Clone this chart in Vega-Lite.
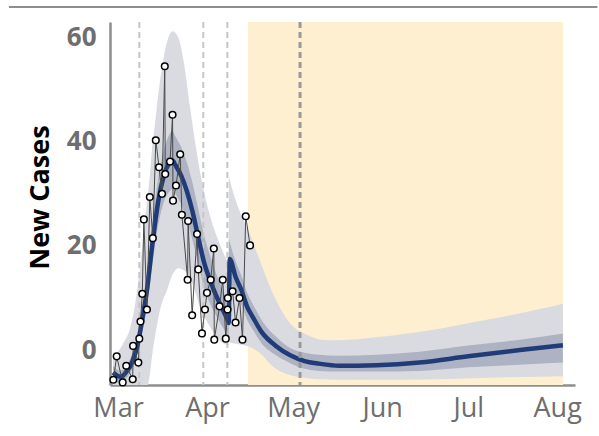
{
  "$schema": "https://vega.github.io/schema/vega-lite/v6.json",
  "width": 465,
  "height": 363,
  "autosize": "none",
  "padding": {"left": 110, "top": 22, "right": 24, "bottom": 51},
  "background": "white",
  "config": {
    "view": {"stroke": null},
    "axis": {"grid": false, "ticks": false, "domainColor": "#8e8e8e", "domainWidth": 2.5, "labelFont": "Open Sans", "labelColor": "#6e6e6e"},
    "axisX": {"labelFontSize": 27, "labelPadding": 10, "labelFontWeight": "normal"},
    "axisY": {"labelFontSize": 26, "labelFontWeight": "bold", "labelPadding": 14, "titleFont": "Open Sans", "titleFontSize": 27, "titleFontWeight": "bold", "titleColor": "#000000", "titleX": -70, "titleY": 175, "titleBaseline": "middle", "titleAlign": "center", "titleAngle": -90}
  },
  "datasets": {
    "obs": [
      {"date": "2020-02-28T09:00:00Z", "cases": -5.7},
      {"date": "2020-02-29T13:00:00Z", "cases": -1.2},
      {"date": "2020-03-02T15:00:00Z", "cases": -6.2},
      {"date": "2020-03-03T21:00:00Z", "cases": -3.0},
      {"date": "2020-03-06T03:00:00Z", "cases": -5.6},
      {"date": "2020-03-06T06:00:00Z", "cases": 0.8},
      {"date": "2020-03-08T02:00:00Z", "cases": -2.4},
      {"date": "2020-03-08T10:00:00Z", "cases": 2.2},
      {"date": "2020-03-08T20:00:00Z", "cases": 5.5},
      {"date": "2020-03-09T11:00:00Z", "cases": 10.8},
      {"date": "2020-03-10T00:00:00Z", "cases": 25.1},
      {"date": "2020-03-11T02:00:00Z", "cases": 7.8},
      {"date": "2020-03-12T02:00:00Z", "cases": 29.4},
      {"date": "2020-03-13T03:00:00Z", "cases": 21.5},
      {"date": "2020-03-14T04:00:00Z", "cases": 40.3},
      {"date": "2020-03-15T07:00:00Z", "cases": 35.1},
      {"date": "2020-03-16T08:00:00Z", "cases": 30.0},
      {"date": "2020-03-17T07:00:00Z", "cases": 54.5},
      {"date": "2020-03-17T11:00:00Z", "cases": 33.8},
      {"date": "2020-03-19T03:00:00Z", "cases": 36.2},
      {"date": "2020-03-20T00:00:00Z", "cases": 45.2},
      {"date": "2020-03-20T04:00:00Z", "cases": 28.7},
      {"date": "2020-03-21T05:00:00Z", "cases": 31.6},
      {"date": "2020-03-22T16:00:00Z", "cases": 37.6},
      {"date": "2020-03-23T06:00:00Z", "cases": 26.0},
      {"date": "2020-03-25T06:00:00Z", "cases": 13.5},
      {"date": "2020-03-25T10:00:00Z", "cases": 24.8},
      {"date": "2020-03-26T20:00:00Z", "cases": 6.7},
      {"date": "2020-03-28T13:00:00Z", "cases": 22.3},
      {"date": "2020-03-28T23:00:00Z", "cases": 15.5},
      {"date": "2020-03-30T06:00:00Z", "cases": 3.2},
      {"date": "2020-03-31T07:00:00Z", "cases": 7.8},
      {"date": "2020-04-01T00:00:00Z", "cases": 11.0},
      {"date": "2020-04-02T07:00:00Z", "cases": 13.5},
      {"date": "2020-04-03T09:00:00Z", "cases": 19.5},
      {"date": "2020-04-03T13:00:00Z", "cases": 2.0},
      {"date": "2020-04-05T09:00:00Z", "cases": 8.4},
      {"date": "2020-04-06T12:00:00Z", "cases": 13.5},
      {"date": "2020-04-07T13:00:00Z", "cases": 2.2},
      {"date": "2020-04-08T04:00:00Z", "cases": 7.8},
      {"date": "2020-04-08T06:00:00Z", "cases": 10.0},
      {"date": "2020-04-09T22:00:00Z", "cases": 11.3},
      {"date": "2020-04-10T23:00:00Z", "cases": 5.3},
      {"date": "2020-04-12T08:00:00Z", "cases": 10.0},
      {"date": "2020-04-13T09:00:00Z", "cases": 2.0},
      {"date": "2020-04-14T12:00:00Z", "cases": 25.7},
      {"date": "2020-04-16T00:00:00Z", "cases": 20.1}
    ],
    "mean": [
      {"date": "2020-02-28T07:00:00Z", "v": -4.3},
      {"date": "2020-03-01T00:00:00Z", "v": -5.0},
      {"date": "2020-03-02T00:00:00Z", "v": -5.1},
      {"date": "2020-03-04T00:00:00Z", "v": -4.1},
      {"date": "2020-03-06T00:00:00Z", "v": -2.2},
      {"date": "2020-03-08T00:00:00Z", "v": 1.5},
      {"date": "2020-03-09T00:00:00Z", "v": 4.5},
      {"date": "2020-03-11T00:00:00Z", "v": 11.2},
      {"date": "2020-03-13T00:00:00Z", "v": 20.5},
      {"date": "2020-03-15T00:00:00Z", "v": 28.5},
      {"date": "2020-03-17T00:00:00Z", "v": 33.5},
      {"date": "2020-03-19T00:00:00Z", "v": 36.0},
      {"date": "2020-03-20T00:00:00Z", "v": 36.4},
      {"date": "2020-03-21T00:00:00Z", "v": 35.5},
      {"date": "2020-03-23T00:00:00Z", "v": 33.5},
      {"date": "2020-03-25T00:00:00Z", "v": 30.5},
      {"date": "2020-03-27T00:00:00Z", "v": 26.5},
      {"date": "2020-03-29T00:00:00Z", "v": 21.5},
      {"date": "2020-03-31T00:00:00Z", "v": 16.8},
      {"date": "2020-04-02T00:00:00Z", "v": 13.5},
      {"date": "2020-04-04T00:00:00Z", "v": 10.7},
      {"date": "2020-04-06T00:00:00Z", "v": 8.3},
      {"date": "2020-04-08T00:00:00Z", "v": 6.0},
      {"date": "2020-04-08T14:00:00Z", "v": 5.2},
      {"date": "2020-04-08T22:00:00Z", "v": 17.5},
      {"date": "2020-04-11T00:00:00Z", "v": 14.0},
      {"date": "2020-04-13T00:00:00Z", "v": 11.5},
      {"date": "2020-04-15T00:00:00Z", "v": 8.3},
      {"date": "2020-04-17T00:00:00Z", "v": 6.3},
      {"date": "2020-04-20T00:00:00Z", "v": 3.5},
      {"date": "2020-04-25T00:00:00Z", "v": 0.8},
      {"date": "2020-04-30T00:00:00Z", "v": -1.0},
      {"date": "2020-05-05T00:00:00Z", "v": -2.1},
      {"date": "2020-05-10T00:00:00Z", "v": -2.6},
      {"date": "2020-05-17T00:00:00Z", "v": -3.0},
      {"date": "2020-05-30T00:00:00Z", "v": -2.9},
      {"date": "2020-06-14T00:00:00Z", "v": -2.4},
      {"date": "2020-07-01T00:00:00Z", "v": -1.2},
      {"date": "2020-07-19T00:00:00Z", "v": 0.0},
      {"date": "2020-08-03T00:00:00Z", "v": 0.95}
    ],
    "outer": [
      {"date": "2020-02-28T07:00:00Z", "seg": 1, "lo": -7.5, "hi": -1.0},
      {"date": "2020-03-01T00:00:00Z", "seg": 1, "lo": -7.5, "hi": -0.3},
      {"date": "2020-03-03T00:00:00Z", "seg": 1, "lo": -7.5, "hi": 1.5},
      {"date": "2020-03-05T00:00:00Z", "seg": 1, "lo": -7.5, "hi": 3.8},
      {"date": "2020-03-07T00:00:00Z", "seg": 1, "lo": -7.5, "hi": 9.0},
      {"date": "2020-03-09T00:00:00Z", "seg": 1, "lo": -7.5, "hi": 17.5},
      {"date": "2020-03-11T00:00:00Z", "seg": 1, "lo": -7.5, "hi": 28.0},
      {"date": "2020-03-12T00:00:00Z", "seg": 1, "lo": -5.0, "hi": 33.0},
      {"date": "2020-03-13T00:00:00Z", "seg": 1, "lo": -0.5, "hi": 39.5},
      {"date": "2020-03-14T00:00:00Z", "seg": 1, "lo": 3.0, "hi": 44.0},
      {"date": "2020-03-15T00:00:00Z", "seg": 1, "lo": 6.0, "hi": 49.0},
      {"date": "2020-03-16T00:00:00Z", "seg": 1, "lo": 8.5, "hi": 53.0},
      {"date": "2020-03-18T00:00:00Z", "seg": 1, "lo": 11.4, "hi": 59.0},
      {"date": "2020-03-20T00:00:00Z", "seg": 1, "lo": 14.5, "hi": 61.2},
      {"date": "2020-03-22T00:00:00Z", "seg": 1, "lo": 15.7, "hi": 60.0},
      {"date": "2020-03-24T00:00:00Z", "seg": 1, "lo": 15.3, "hi": 55.0},
      {"date": "2020-03-26T00:00:00Z", "seg": 1, "lo": 14.0, "hi": 47.0},
      {"date": "2020-03-28T00:00:00Z", "seg": 1, "lo": 11.0, "hi": 39.5},
      {"date": "2020-03-30T00:00:00Z", "seg": 1, "lo": 7.5, "hi": 33.0},
      {"date": "2020-04-01T00:00:00Z", "seg": 1, "lo": 5.5, "hi": 28.0},
      {"date": "2020-04-03T00:00:00Z", "seg": 1, "lo": 3.6, "hi": 24.0},
      {"date": "2020-04-05T00:00:00Z", "seg": 1, "lo": 2.2, "hi": 21.0},
      {"date": "2020-04-07T00:00:00Z", "seg": 1, "lo": 1.2, "hi": 18.3},
      {"date": "2020-04-08T14:00:00Z", "seg": 1, "lo": 0.8, "hi": 16.5},
      {"date": "2020-04-08T14:00:00Z", "seg": 2, "lo": 1.5, "hi": 33.5},
      {"date": "2020-04-10T00:00:00Z", "seg": 2, "lo": 1.3, "hi": 30.5},
      {"date": "2020-04-12T12:00:00Z", "seg": 2, "lo": 1.1, "hi": 26.5},
      {"date": "2020-04-16T00:00:00Z", "seg": 2, "lo": 0.6, "hi": 22.2},
      {"date": "2020-04-19T12:00:00Z", "seg": 2, "lo": -0.6, "hi": 17.1},
      {"date": "2020-04-24T00:00:00Z", "seg": 2, "lo": -3.2, "hi": 10.8},
      {"date": "2020-04-30T00:00:00Z", "seg": 2, "lo": -4.8, "hi": 5.1},
      {"date": "2020-05-06T00:00:00Z", "seg": 2, "lo": -5.4, "hi": 2.9},
      {"date": "2020-05-11T00:00:00Z", "seg": 2, "lo": -5.6, "hi": 2.0},
      {"date": "2020-05-17T00:00:00Z", "seg": 2, "lo": -5.7, "hi": 1.9},
      {"date": "2020-05-29T00:00:00Z", "seg": 2, "lo": -5.7, "hi": 2.4},
      {"date": "2020-06-10T00:00:00Z", "seg": 2, "lo": -5.7, "hi": 3.2},
      {"date": "2020-06-21T00:00:00Z", "seg": 2, "lo": -5.6, "hi": 4.1},
      {"date": "2020-07-03T00:00:00Z", "seg": 2, "lo": -5.4, "hi": 5.4},
      {"date": "2020-07-14T00:00:00Z", "seg": 2, "lo": -5.2, "hi": 6.5},
      {"date": "2020-07-26T00:00:00Z", "seg": 2, "lo": -5.1, "hi": 7.9},
      {"date": "2020-08-03T00:00:00Z", "seg": 2, "lo": -5.0, "hi": 8.9}
    ],
    "inner": [
      {"date": "2020-02-28T07:00:00Z", "seg": 1, "lo": -5.8, "hi": -3.0},
      {"date": "2020-03-01T00:00:00Z", "seg": 1, "lo": -6.2, "hi": -3.8},
      {"date": "2020-03-02T00:00:00Z", "seg": 1, "lo": -6.3, "hi": -3.9},
      {"date": "2020-03-04T00:00:00Z", "seg": 1, "lo": -5.4, "hi": -2.9},
      {"date": "2020-03-06T00:00:00Z", "seg": 1, "lo": -3.6, "hi": -0.6},
      {"date": "2020-03-08T00:00:00Z", "seg": 1, "lo": -0.3, "hi": 3.5},
      {"date": "2020-03-09T00:00:00Z", "seg": 1, "lo": 2.2, "hi": 7.0},
      {"date": "2020-03-11T00:00:00Z", "seg": 1, "lo": 8.0, "hi": 14.5},
      {"date": "2020-03-13T00:00:00Z", "seg": 1, "lo": 16.5, "hi": 24.5},
      {"date": "2020-03-15T00:00:00Z", "seg": 1, "lo": 24.0, "hi": 33.0},
      {"date": "2020-03-17T00:00:00Z", "seg": 1, "lo": 28.5, "hi": 38.5},
      {"date": "2020-03-19T00:00:00Z", "seg": 1, "lo": 30.5, "hi": 41.5},
      {"date": "2020-03-20T00:00:00Z", "seg": 1, "lo": 31.0, "hi": 42.0},
      {"date": "2020-03-21T00:00:00Z", "seg": 1, "lo": 30.0, "hi": 41.0},
      {"date": "2020-03-23T00:00:00Z", "seg": 1, "lo": 28.0, "hi": 39.0},
      {"date": "2020-03-25T00:00:00Z", "seg": 1, "lo": 25.0, "hi": 36.0},
      {"date": "2020-03-27T00:00:00Z", "seg": 1, "lo": 21.0, "hi": 32.0},
      {"date": "2020-03-29T00:00:00Z", "seg": 1, "lo": 16.5, "hi": 27.0},
      {"date": "2020-03-31T00:00:00Z", "seg": 1, "lo": 12.0, "hi": 22.0},
      {"date": "2020-04-02T00:00:00Z", "seg": 1, "lo": 9.0, "hi": 18.3},
      {"date": "2020-04-04T00:00:00Z", "seg": 1, "lo": 6.8, "hi": 15.0},
      {"date": "2020-04-06T00:00:00Z", "seg": 1, "lo": 4.8, "hi": 12.3},
      {"date": "2020-04-08T00:00:00Z", "seg": 1, "lo": 3.0, "hi": 9.5},
      {"date": "2020-04-08T14:00:00Z", "seg": 1, "lo": 2.4, "hi": 8.8},
      {"date": "2020-04-08T14:00:00Z", "seg": 2, "lo": 13.5, "hi": 21.5},
      {"date": "2020-04-11T00:00:00Z", "seg": 2, "lo": 11.0, "hi": 17.0},
      {"date": "2020-04-13T00:00:00Z", "seg": 2, "lo": 8.7, "hi": 14.3},
      {"date": "2020-04-15T00:00:00Z", "seg": 2, "lo": 5.8, "hi": 11.0},
      {"date": "2020-04-17T00:00:00Z", "seg": 2, "lo": 3.9, "hi": 8.8},
      {"date": "2020-04-20T00:00:00Z", "seg": 2, "lo": 1.3, "hi": 5.8},
      {"date": "2020-04-25T00:00:00Z", "seg": 2, "lo": -1.0, "hi": 2.6},
      {"date": "2020-04-30T00:00:00Z", "seg": 2, "lo": -2.5, "hi": 0.4},
      {"date": "2020-05-05T00:00:00Z", "seg": 2, "lo": -3.6, "hi": -0.5},
      {"date": "2020-05-10T00:00:00Z", "seg": 2, "lo": -4.0, "hi": -0.9},
      {"date": "2020-05-17T00:00:00Z", "seg": 2, "lo": -4.1, "hi": -1.1},
      {"date": "2020-05-30T00:00:00Z", "seg": 2, "lo": -4.1, "hi": -0.9},
      {"date": "2020-06-14T00:00:00Z", "seg": 2, "lo": -4.0, "hi": -0.3},
      {"date": "2020-07-01T00:00:00Z", "seg": 2, "lo": -3.3, "hi": 0.9},
      {"date": "2020-07-19T00:00:00Z", "seg": 2, "lo": -2.8, "hi": 2.0},
      {"date": "2020-08-03T00:00:00Z", "seg": 2, "lo": -2.4, "hi": 3.2}
    ],
    "shade": [{"date": "2020-04-15T07:00:00Z", "end": "2020-08-03T01:00:00Z"}],
    "light": [{"date": "2020-03-08T10:00:00Z"}, {"date": "2020-03-30T17:00:00Z"}, {"date": "2020-04-08T02:00:00Z"}],
    "dark": [{"date": "2020-05-03T10:00:00Z"}],
    "topline": [{"date": "2020-01-23T00:00:00Z", "end": "2020-08-15T00:00:00Z", "y": 65.9}]
  },
  "encoding": {
    "x": {
      "field": "date", "type": "temporal", "title": null,
      "scale": {"type": "utc", "domain": [{"year": 2020, "month": 2, "date": 27, "hours": 5, "utc": true}, {"year": 2020, "month": 8, "date": 7, "hours": 5, "utc": true}], "nice": false},
      "axis": {"format": "%b", "values": [
        {"year": 2020, "month": 3, "date": 1, "utc": true},
        {"year": 2020, "month": 4, "date": 1, "utc": true},
        {"year": 2020, "month": 5, "date": 1, "utc": true},
        {"year": 2020, "month": 6, "date": 1, "utc": true},
        {"year": 2020, "month": 7, "date": 1, "utc": true},
        {"year": 2020, "month": 8, "date": 1, "utc": true}
      ]}
    }
  },
  "layer": [
    {
      "data": {"name": "shade"},
      "mark": {"type": "rect", "color": "#feefd0"},
      "encoding": {"x2": {"field": "end"}}
    },
    {
      "data": {"name": "outer"},
      "mark": {"type": "area", "color": "#d9dbe1", "opacity": 1, "interpolate": "monotone", "clip": true},
      "encoding": {
        "y": {"field": "lo", "type": "quantitative", "title": "New Cases", "scale": {"domain": [-6.7, 63], "nice": false, "zero": false}, "axis": {"values": [0, 20, 40, 60]}},
        "y2": {"field": "hi"},
        "detail": {"field": "seg"}
      }
    },
    {
      "data": {"name": "inner"},
      "mark": {"type": "area", "color": "#adb3c3", "opacity": 1, "interpolate": "monotone", "clip": true},
      "encoding": {
        "y": {"field": "lo", "type": "quantitative", "title": "New Cases", "scale": {"domain": [-6.7, 63], "nice": false, "zero": false}},
        "y2": {"field": "hi"},
        "detail": {"field": "seg"}
      }
    },
    {
      "data": {"name": "light"},
      "mark": {"type": "rule", "color": "#c6c6c6", "strokeWidth": 2, "strokeDash": [6, 4]},
      "encoding": {}
    },
    {
      "data": {"name": "mean"},
      "mark": {"type": "line", "color": "#1f3b78", "strokeWidth": 4.5, "interpolate": "monotone", "clip": true},
      "encoding": {
        "y": {"field": "v", "type": "quantitative", "title": "New Cases", "scale": {"domain": [-6.7, 63], "nice": false, "zero": false}}
      }
    },
    {
      "data": {"name": "dark"},
      "mark": {"type": "rule", "color": "#999999", "strokeWidth": 3, "strokeDash": [6, 4]},
      "encoding": {}
    },
    {
      "data": {"name": "obs"},
      "mark": {"type": "line", "color": "#4a4a4a", "strokeWidth": 1},
      "encoding": {
        "y": {"field": "cases", "type": "quantitative", "title": "New Cases", "scale": {"domain": [-6.7, 63], "nice": false, "zero": false}}
      }
    },
    {
      "data": {"name": "obs"},
      "mark": {"type": "point", "filled": true, "fill": "white", "stroke": "black", "strokeWidth": 1.5, "size": 44, "opacity": 1},
      "encoding": {
        "y": {"field": "cases", "type": "quantitative", "title": "New Cases", "scale": {"domain": [-6.7, 63], "nice": false, "zero": false}}
      }
    },
    {
      "data": {"name": "topline"},
      "mark": {"type": "rule", "color": "#8e8e8e", "strokeWidth": 2},
      "encoding": {
        "x2": {"field": "end"},
        "y": {"field": "y", "type": "quantitative", "scale": {"domain": [-6.7, 63], "nice": false, "zero": false}}
      }
    }
  ]
}
